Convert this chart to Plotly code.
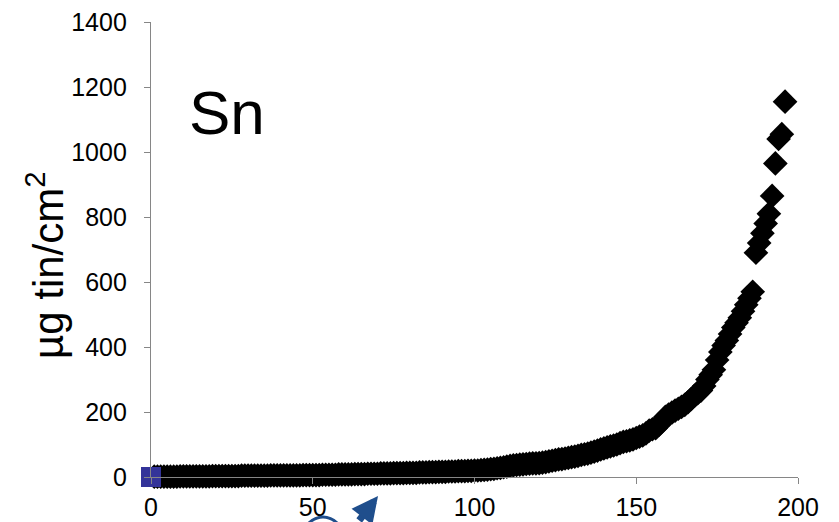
import plotly.graph_objects as go

# Tin loading per sample (µg/cm²), one reading per sample index 1..196
sample_idx = list(range(1, 197))
tin_ug_cm2 = [
    1, 1, 1, 1, 1, 1, 1, 1, 2, 2,
    2, 2, 2, 2, 2, 2, 2, 2, 3, 3,
    3, 3, 3, 3, 3, 3, 3, 4, 4, 4,
    4, 4, 4, 4, 4, 4, 5, 5, 5, 5,
    5, 5, 5, 5, 5, 5, 6, 6, 6, 6,
    6, 6, 7, 7, 7, 7, 7, 8, 8, 8,
    8, 8, 9, 9, 9, 9, 10, 10, 10, 10,
    11, 11, 11, 11, 12, 12, 12, 12, 13, 13,
    13, 13, 14, 14, 14, 15, 15, 15, 16, 16,
    16, 17, 17, 17, 18, 18, 18, 19, 19, 20,
    20, 21, 22, 23, 24, 25, 27, 28, 30, 32,
    34, 36, 37, 38, 39, 40, 41, 42, 42, 43,
    44, 46, 48, 50, 52, 54, 55, 57, 59, 61,
    63, 65, 68, 70, 72, 75, 78, 81, 85, 88,
    91, 94, 97, 100, 104, 108, 110, 113, 116, 120,
    124, 128, 134, 143, 147, 150, 160, 172, 185, 192,
    198, 204, 210, 216, 222, 230, 240, 250, 258, 266,
    280, 300, 315, 330, 360, 385, 405, 420, 440, 460,
    475, 490, 510, 530, 550, 570, 690, 720, 750, 780,
    810, 865, 965, 1040, 1055, 1155,
]

# Reference blank
blank_x = [0]
blank_y = [0]

x_ticks = [0, 50, 100, 150, 200]
y_ticks = [0, 200, 400, 600, 800, 1000, 1200, 1400]

FONT = "Liberation Sans, Arial, sans-serif"
AXIS_GREY = "#868686"
ARROW_BLUE = "#1F4E8C"

fig = go.Figure()
fig.add_trace(go.Scatter(
    x=sample_idx, y=tin_ug_cm2, mode="markers",
    marker=dict(symbol="diamond", size=19, color="black", line=dict(width=0)),
    cliponaxis=False, showlegend=False,
))
fig.add_trace(go.Scatter(
    x=blank_x, y=blank_y, mode="markers",
    marker=dict(symbol="square", size=20, color="#333399", line=dict(width=0)),
    cliponaxis=False, showlegend=False,
))

axis_common = dict(
    showgrid=False, zeroline=False, showline=True, linecolor=AXIS_GREY, linewidth=1.3,
    ticks="outside", ticklen=6, tickcolor=AXIS_GREY, tickwidth=1.3,
    tickfont=dict(family=FONT, size=25, color="black"), automargin=False,
)

fig.update_layout(
    width=839, height=522,
    margin=dict(l=151, r=41, t=22, b=45),
    paper_bgcolor="white", plot_bgcolor="white",
    xaxis=dict(range=[0, 200], tickvals=x_ticks, ticklabelstandoff=2, **axis_common),
    yaxis=dict(range=[0, 1400], tickvals=y_ticks, ticklabelstandoff=12, **axis_common),
    annotations=[
        # vertical axis label
        dict(text="µg tin/cm<sup>2</sup>", xref="paper", yref="paper",
             x=(45 - 151) / 647, y=(477 - 265) / 455, textangle=-90,
             xanchor="center", yanchor="middle", showarrow=False,
             font=dict(family=FONT, size=42, color="black")),
        dict(text="Sn", xref="paper", yref="paper", x=0.055, y=0.80,
             xanchor="left", yanchor="middle", showarrow=False,
             font=dict(family=FONT, size=62, color="black")),
        # callout arrow pointing up into the axis region
        dict(text="", xref="paper", yref="paper", x=(378 - 151) / 647, y=(477 - 496) / 455,
             ax=-20, ay=34, showarrow=True, arrowhead=2, arrowsize=0.75,
             arrowwidth=7, arrowcolor=ARROW_BLUE),
    ],
    shapes=[
        dict(type="circle", xref="paper", yref="paper",
             x0=(296 - 151) / 647, x1=(350 - 151) / 647,
             y0=(477 - 517) / 455, y1=(477 - 600) / 455,
             line=dict(color=ARROW_BLUE, width=3)),
    ],
)

fig.write_html("out.html")
